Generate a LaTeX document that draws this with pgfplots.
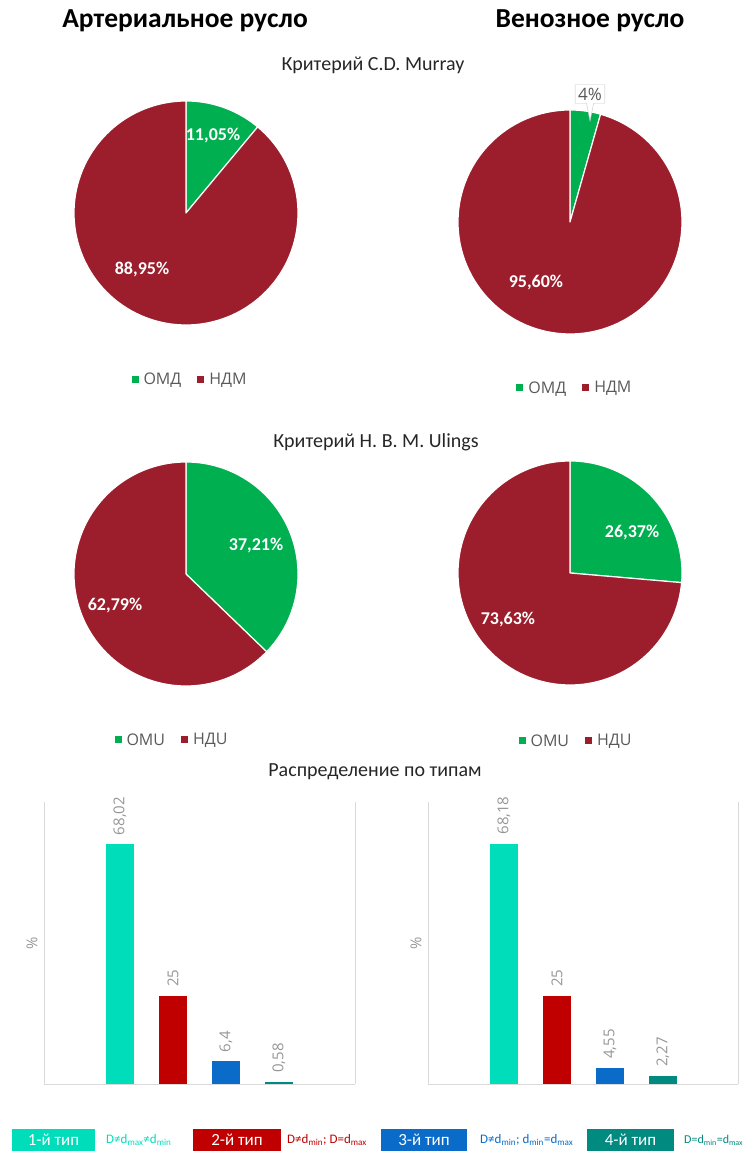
\documentclass[border=0pt]{standalone}
\usepackage{fontspec}
\setmainfont{Carlito}
\newfontfamily\osans{Open Sans}
\usepackage{pgfplots}
\pgfplotsset{compat=1.18}
\usetikzlibrary{shapes.callouts}

\definecolor{pgreen}{RGB}{0,176,80}
\definecolor{pred}{RGB}{156,29,43}
\definecolor{cturq}{RGB}{0,221,187}
\definecolor{cred}{RGB}{192,0,0}
\definecolor{cblue}{RGB}{10,108,200}
\definecolor{cteal}{RGB}{0,138,128}
\definecolor{lgray}{RGB}{89,89,89}
\definecolor{vgray}{RGB}{150,150,150}
\definecolor{axgray}{RGB}{217,217,217}
\definecolor{tgray}{RGB}{38,38,38}

\tikzset{
 plabel/.style={text=white, font=\bfseries\fontsize{18}{21}\selectfont},
}
\pgfplotsset{
 pieaxis/.style={scale only axis, width=224pt, height=224pt,
   xmin=-1, xmax=1, ymin=-1, ymax=1, hide axis, clip=false, anchor=center,
   legend columns=-1,
   legend image code/.code={\fill[##1,draw=none] (0pt,-3.5pt) rectangle (7pt,3.5pt);
     \path[draw=none,fill=none] (0pt,0pt) -- (10pt,0pt);},
   legend style={draw=none, fill=none, anchor=center,
     font=\osans\fontsize{16}{19}\selectfont, text=lgray,
     /tikz/every even column/.append style={column sep=14pt}},
 },
 sector/.style={draw=white, line width=1.2pt, samples=120, line join=round},
 baraxis/.style={scale only axis, height=282pt, ymin=0, ymax=80, anchor=south west,
   axis x line=bottom, axis y line=box,
   axis line style={draw=axgray, line width=0.8pt, -},
   xtick=\empty, ytick=\empty, clip=false},
 bar/.style={ybar, bar width=28pt, bar shift=0pt, draw=none, fill=#1,
   nodes near coords, point meta=explicit symbolic,
   every node near coord/.append style={rotate=90, anchor=west,
     font=\osans\fontsize{15}{17}\selectfont, text=vgray, inner xsep=9pt, inner ysep=0pt}},
}

\begin{document}
\begin{tikzpicture}[x=1pt,y=1pt]
\useasboundingbox (0,0) rectangle (749,1151);

% headings
\node[anchor=base, font=\bfseries\fontsize{27.5}{31}\selectfont] at (185,1123) {Артериальное русло};
\node[anchor=base, font=\bfseries\fontsize{27.5}{31}\selectfont] at (590,1123) {Венозное русло};
\node[anchor=base, font=\fontsize{20}{24}\selectfont, text=tgray] at (373,1080) {Критерий C.D. Murray};
\node[anchor=base, font=\fontsize{20}{24}\selectfont, text=tgray] at (376,703) {Критерий H. B. M. Ulings};
\node[anchor=base, font=\fontsize{20}{24}\selectfont, text=tgray] at (375,374) {Распределение по типам};

% Pie 1: arterial, Murray (11,05 / 88,95)
\begin{axis}[pieaxis, at={(186pt,938pt)}, legend style={at={(0.518,-0.245)}}]
\addplot[sector, fill=pgreen, domain=50.22:90] ({cos(x)},{sin(x)}) -- (axis cs:0,0) -- cycle;
\addplot[sector, fill=pred, domain=-270:50.22] ({cos(x)},{sin(x)}) -- (axis cs:0,0) -- cycle;
\legend{ОМД, НДМ}
\node[plabel] at (axis cs:0.241,0.696) {11,05\%};
\node[plabel] at (axis cs:-0.393,-0.509) {88,95\%};
\end{axis}

% Pie 2: venous, Murray (4,40 / 95,60)
\begin{axis}[pieaxis, at={(570pt,929pt)}, legend style={at={(0.522,-0.241)}}]
\addplot[sector, fill=pgreen, domain=74.16:90] ({cos(x)},{sin(x)}) -- (axis cs:0,0) -- cycle;
\addplot[sector, fill=pred, domain=-270:74.16] ({cos(x)},{sin(x)}) -- (axis cs:0,0) -- cycle;
\legend{ОМД, НДМ}
\node[plabel] at (axis cs:-0.304,-0.536) {95,60\%};
\node[rectangle callout, draw=gray!45, fill=white, text=lgray,
      font=\osans\fontsize{17}{20}\selectfont, inner xsep=3pt, inner ysep=3pt,
      callout relative pointer={(0pt,-18pt)}] at (axis cs:0.179,1.143) {4\%};
\end{axis}

% Pie 3: arterial, Ulings (37,21 / 62,79)
\begin{axis}[pieaxis, at={(186pt,577pt)}, legend style={at={(0.4375,-0.241)}}]
\addplot[sector, fill=pgreen, domain=-43.956:90] ({cos(x)},{sin(x)}) -- (axis cs:0,0) -- cycle;
\addplot[sector, fill=pred, domain=-270:-43.956] ({cos(x)},{sin(x)}) -- (axis cs:0,0) -- cycle;
\legend{OMU, НДU}
\node[plabel] at (axis cs:0.625,0.25) {37,21\%};
\node[plabel] at (axis cs:-0.634,-0.277) {62,79\%};
\end{axis}

% Pie 4: venous, Ulings (26,37 / 73,63)
\begin{axis}[pieaxis, at={(570pt,578pt)}, legend style={at={(0.527,-0.25)}}]
\addplot[sector, fill=pgreen, domain=-4.93:90] ({cos(x)},{sin(x)}) -- (axis cs:0,0) -- cycle;
\addplot[sector, fill=pred, domain=-270:-4.93] ({cos(x)},{sin(x)}) -- (axis cs:0,0) -- cycle;
\legend{OMU, НДU}
\node[plabel] at (axis cs:0.554,0.357) {26,37\%};
\node[plabel] at (axis cs:-0.554,-0.411) {73,63\%};
\end{axis}

% Bar chart: arterial
\begin{axis}[baraxis, at={(44pt,67pt)}, width=311pt, xmin=-0.434, xmax=5.434]
\addplot[bar=cturq] coordinates {(1,68.02) [68,02]};
\addplot[bar=cred]  coordinates {(2,25) [25]};
\addplot[bar=cblue] coordinates {(3,6.4) [6,4]};
\addplot[bar=cteal] coordinates {(4,0.58) [0,58]};
\end{axis}
\node[rotate=90, font=\osans\fontsize{15}{17}\selectfont, text=vgray] at (32,208) {\%};

% Bar chart: venous
\begin{axis}[baraxis, at={(428pt,67pt)}, width=310pt, xmin=-0.434, xmax=5.415]
\addplot[bar=cturq] coordinates {(1,68.18) [68,18]};
\addplot[bar=cred]  coordinates {(2,25) [25]};
\addplot[bar=cblue] coordinates {(3,4.55) [4,55]};
\addplot[bar=cteal] coordinates {(4,2.27) [2,27]};
\end{axis}
\node[rotate=90, font=\osans\fontsize{15}{17}\selectfont, text=vgray] at (416,208) {\%};

% bottom legend
\begin{scope}[every node/.style={font=\fontsize{17}{19}\selectfont}]
\fill[cturq] (12,0) rectangle (95,22);
\node[text=white] at (53.5,11) {1-й тип};
\fill[cred] (193,0) rectangle (281,22);
\node[text=white] at (237,11) {2-й тип};
\fill[cblue] (381,0) rectangle (467,22);
\node[text=white] at (424,11) {3-й тип};
\fill[cteal] (587,0) rectangle (674,22);
\node[text=white] at (630.5,11) {4-й тип};
\end{scope}
\begin{scope}[every node/.style={font=\fontsize{13}{15}\selectfont, anchor=west, inner sep=0pt}]
\node[text=cturq] at (106,11) {D≠d\textsubscript{max}≠d\textsubscript{min}};
\node[text=cred] at (287,11) {D≠d\textsubscript{min}; D=d\textsubscript{max}};
\node[text=cblue] at (480,11) {D≠d\textsubscript{min}; d\textsubscript{min}=d\textsubscript{max}};
\node[text=cteal, font=\fontsize{12}{14}\selectfont] at (684,11) {D=d\textsubscript{min}=d\textsubscript{max}};
\end{scope}
\end{tikzpicture}
\end{document}
